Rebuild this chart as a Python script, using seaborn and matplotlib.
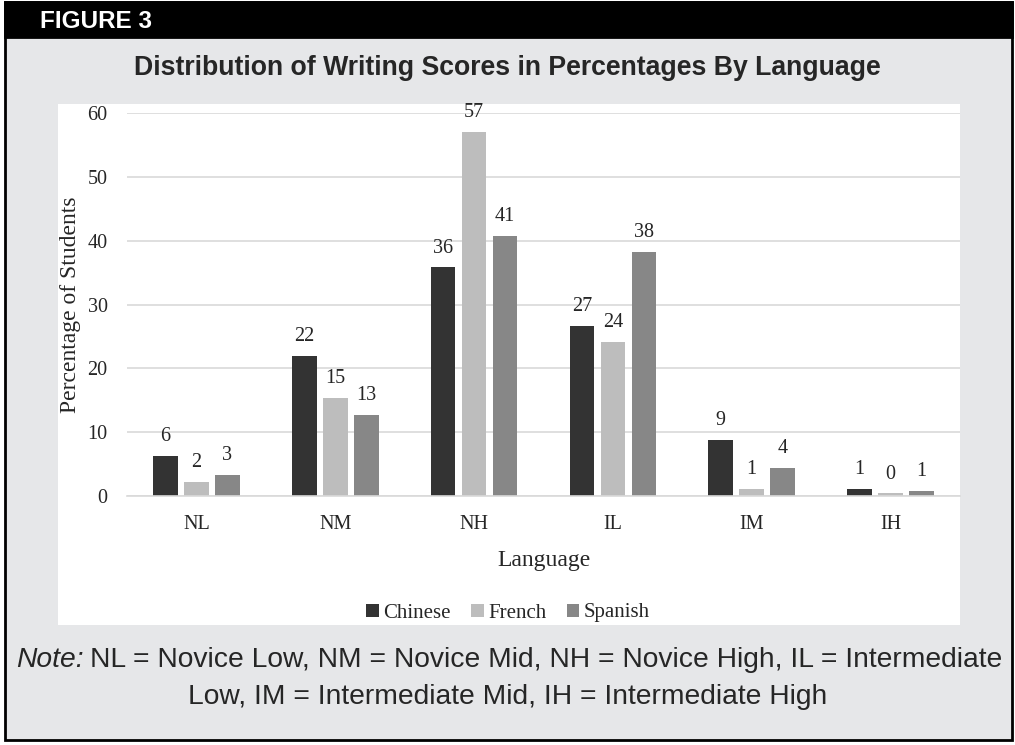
import pandas as pd
import numpy as np
import seaborn as sns
import matplotlib.pyplot as plt
from matplotlib.patches import Rectangle

sns.set_style('white')
plt.rcParams['font.family'] = ['Liberation Serif', 'DejaVu Serif']

# %% data
levels = ['NL', 'NM', 'NH', 'IL', 'IM', 'IH']
languages = ['Chinese', 'French', 'Spanish']
chinese = [6.3, 22.0, 35.8, 26.6, 8.8, 1.1]
french = [2.2, 15.4, 57.1, 24.2, 1.1, 0.4]
spanish = [3.3, 12.7, 40.7, 38.3, 4.4, 0.8]
bar_colors = ['#333333', '#bdbdbd', '#878787']
note_line1 = 'NL = Novice Low, NM = Novice Mid, NH = Novice High, IL = Intermediate'
note_line2 = 'Low, IM = Intermediate Mid, IH = Intermediate High'

df = pd.DataFrame({
    'level': levels * 3,
    'pct': chinese + french + spanish,
    'lang': np.repeat(languages, len(levels)),
})

W, H = 1015, 745
fig = plt.figure(figsize=(W / 100, H / 100), dpi=100)
fig.patch.set_facecolor('white')

# outer frame, black header strip, white chart panel
fig.add_artist(Rectangle((5 / W, 1 - 740 / H), 1007 / W, 738 / H, transform=fig.transFigure,
                         facecolor='#e6e7e9', edgecolor='black', linewidth=2, zorder=-10))
fig.add_artist(Rectangle((5 / W, 1 - 37 / H), 1007 / W, 35 / H, transform=fig.transFigure,
                         facecolor='black', edgecolor='black', linewidth=2, zorder=-9))
fig.add_artist(Rectangle((58 / W, 1 - 625 / H), 902 / W, 521 / H, transform=fig.transFigure,
                         facecolor='white', edgecolor='none', zorder=-8))

sans = ['Liberation Sans', 'DejaVu Sans']
fig.text(40 / W, 1 - 21 / H, 'FIGURE 3', color='white', fontsize=17.5, fontweight='bold',
         family=sans, ha='left', va='center')
fig.text(507 / W, 1 - 68 / H, 'Distribution of Writing Scores in Percentages By Language',
         fontsize=19.2, fontweight='bold', family=sans, ha='center', va='center')

ax = fig.add_axes([127 / W, 1 - 496 / H, 833 / W, 383 / H])
ax.set_facecolor('none')
sns.barplot(data=df, x='level', y='pct', hue='lang', order=levels, hue_order=languages,
            palette=bar_colors, width=0.67, gap=0.2, linewidth=0, saturation=1, ax=ax)

for c in ax.containers:
    ax.bar_label(c, fmt='%.0f', padding=7, fontsize=14.5)

ax.set_ylim(0, 60)
ax.set_yticks(range(0, 61, 10))
ax.yaxis.grid(True, color='#d9d9d9', linewidth=1.2)
ax.set_axisbelow(True)
for s in ['top', 'right', 'left']:
    ax.spines[s].set_visible(False)
ax.spines['bottom'].set_color('#d9d9d9')
ax.spines['bottom'].set_linewidth(1.2)
ax.tick_params(axis='both', length=0, labelsize=14.5)
ax.tick_params(axis='y', pad=14)
ax.tick_params(axis='x', pad=14)

ax.set_xlabel('Language', fontsize=17)
ax.set_ylabel('Percentage of Students', fontsize=17)
ax.xaxis.set_label_coords(0.5, -0.14)
ax.yaxis.set_label_coords(-0.055, 0.5)

sns.move_legend(ax, 'center', bbox_to_anchor=(508 / W, 1 - 613 / H), bbox_transform=fig.transFigure,
                ncol=3, frameon=False, title=None, fontsize=15, handlelength=0.6, handleheight=0.6,
                handletextpad=0.2, columnspacing=1.0)

nsize = 20.3
t = fig.text(508 / W, 1 - 660 / H, 'Note:', fontsize=nsize, family=sans, style='italic',
             ha='left', va='center')
t1 = fig.text(508 / W, 1 - 660 / H, note_line1, fontsize=nsize, family=sans, ha='center', va='center')
fig.text(508 / W, 1 - 697 / H, note_line2, fontsize=nsize, family=sans, ha='center', va='center')

# place "Note:" and the first line side by side, centred together
fig.canvas.draw()
r = fig.canvas.get_renderer()
w_note = t.get_window_extent(r).width
w_line = t1.get_window_extent(r).width
gap = 6
start = (W - (w_note + gap + w_line)) / 2 + 2
t.set_position((start / W, 1 - 660 / H))
t1.set_ha('left')
t1.set_position(((start + w_note + gap) / W, 1 - 660 / H))

fig.savefig('out.png', dpi=100)
